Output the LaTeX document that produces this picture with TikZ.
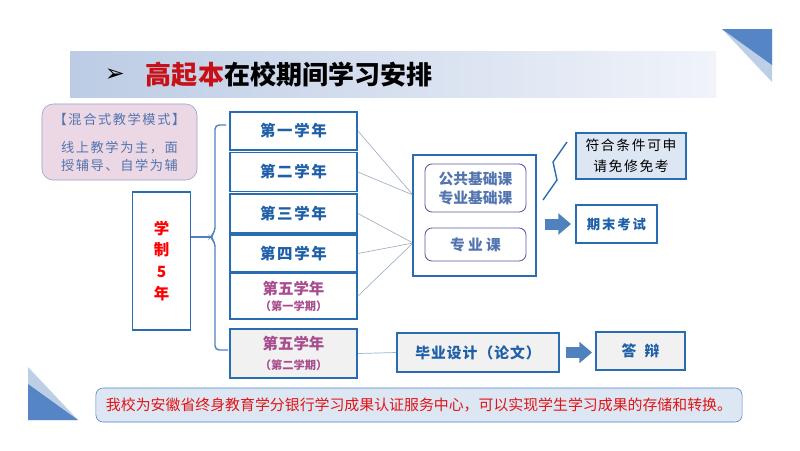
\documentclass[tikz,border=0pt]{standalone}
\usepackage{fontspec}
\setmainfont{Noto Sans CJK SC}
\newfontfamily\symfont{DejaVu Sans}
\usepackage{tikz}
\usetikzlibrary{arrows.meta}
\definecolor{boxblue}{RGB}{40, 108, 178}
\definecolor{yearblue}{RGB}{30, 95, 168}
\definecolor{mauve}{RGB}{168, 78, 142}
\definecolor{softblue}{RGB}{82, 116, 176}
\definecolor{lineblue}{RGB}{165, 178, 198}
\definecolor{arrowblue}{RGB}{79, 129, 189}
\definecolor{pink}{RGB}{236, 216, 228}
\definecolor{paleblue}{RGB}{221, 231, 244}
\definecolor{lgray}{RGB}{241, 241, 241}
\definecolor{trilight}{RGB}{188, 207, 231}
\definecolor{tridark}{RGB}{86, 133, 197}
\definecolor{titlered}{RGB}{200, 16, 24}
\definecolor{notered}{RGB}{226, 20, 20}
\tikzset{
	yearbox/.style = {draw = boxblue, line width = 1.3pt, fill = white, minimum width = 3.175cm, inner sep = 0pt, align = center, text = yearblue, font = \fontsize{11}{13}\selectfont\bfseries\addfontfeature{LetterSpace=10}},
	plainbox/.style = {draw = boxblue, line width = 1.3pt, fill = white, inner sep = 0pt, align = center},
	roundbox/.style = {draw = gray!70!blue, line width = 0.6pt, fill = white, rounded corners = 5pt, minimum width = 2.525cm, inner sep = 0pt, align = center, text = softblue, font = \fontsize{10.5}{13.5}\selectfont\bfseries},
	thin line/.style = {draw = lineblue, line width = 0.5pt},
	fat/.style = {draw = arrowblue, line width = 0.275cm, -{Triangle[length = 0.32cm, width = 0.52cm]}}
}

\begin{document}
\begin{tikzpicture}[x = 0.025cm, y = -0.025cm]
			\useasboundingbox (0,0) rectangle (800,450);
			\shade[left color = {rgb,255:red,188;green,204;blue,228}, right color = {rgb,255:red,240;green,243;blue,250}] (70,51) rectangle (716,97);
			\fill[trilight] (722,29) -- (772,29) -- (772,82) -- cycle;
			\fill[tridark] (722,29) -- (772,29) -- (772,65) -- cycle;
			\fill[trilight] (28,367) -- (78,420) -- (28,420) -- cycle;
			\fill[tridark] (28,384) -- (78,420) -- (28,420) -- cycle;
			\node (mark) at (115,75) [font = \symfont\fontsize{17}{19}\selectfont] {➢};
			\node (title) at (141,75) [anchor = west, font = \fontsize{18.5}{22}\selectfont\bfseries] {\textcolor{titlered}{高起本}在校期间学习安排};
			\node (mode) at (119.5,142) [draw = {rgb,255:red,150;green,160;blue,200}, fill = pink, rounded corners = 8pt, minimum width = 3.875cm, minimum height = 1.9cm, align = center, text = softblue, font = \fontsize{9.4}{12.8}\selectfont\addfontfeature{LetterSpace=12}] {【混合式教学模式】\\[7pt]线上教学为主，面\\授辅导、自学为辅};
			\node (plan) at (161.5,261) [plainbox, minimum width = 1.45cm, minimum height = 3.45cm, text = red, font = \fontsize{11}{15.6}\selectfont\bfseries] {学\\制\\5\\年};
			\node (y1) at (293.5,131) [yearbox, minimum height = 0.95cm] {第一学年};
			\node (y2) at (293.5,172) [yearbox, minimum height = 0.975cm] {第二学年};
			\node (y3) at (293.5,213.5) [yearbox, minimum height = 0.975cm] {第三学年};
			\node (y4) at (293.5,253.5) [yearbox, minimum height = 0.925cm] {第四学年};
			\node (y5) at (293.5,296) [yearbox, minimum height = 1.15cm, text = mauve, font = \fontsize{11}{11.4}\selectfont\bfseries] {第五学年\\{\fontsize{8}{10}\selectfont （第一学期）}};
			\node (y6) at (293.5,353.5) [yearbox, fill = lgray, minimum height = 1.225cm, text = mauve, font = \fontsize{11}{14}\selectfont\bfseries] {第五学年\\{\fontsize{8}{10}\selectfont （第二学期）}};
			\coordinate (in1) at (413,195);
			\coordinate (in2) at (413,243);
			\draw[thin line] (y1.east) -- (in1);
			\draw[thin line] (y2.east) -- (in1);
			\draw[thin line] (y3.east) -- (in2);
			\draw[thin line] (y4.east) -- (in2);
			\draw[thin line] (y5.east) -- (in2);
			\node (course) at (474.5,215.5) [plainbox, minimum width = 3.075cm, minimum height = 3.025cm] {};
			\node (basic) at (475.5,188) [roundbox, minimum height = 1.2cm] {公共基础课\\专业基础课};
			\node (major) at (475.5,244.5) [roundbox, minimum height = 0.825cm, font = \fontsize{10.5}{13}\selectfont\bfseries\addfontfeature{LetterSpace=22}] {专业课};
			\node (free) at (631,156) [plainbox, fill = paleblue, minimum width = 2.75cm, minimum height = 1.15cm, font = \fontsize{9.8}{15}\selectfont\addfontfeature{LetterSpace=12}] {符合条件可申\\请免修免考};
			\node (exam) at (616.5,224) [plainbox, minimum width = 2.025cm, minimum height = 0.95cm, text = yearblue, font = \fontsize{9.5}{12}\selectfont\bfseries\addfontfeature{LetterSpace=14}] {期末考试};
			\node (thesis) at (478,352.5) [plainbox, fill = lgray, minimum width = 4.05cm, minimum height = 0.975cm, text = yearblue, font = \fontsize{10.5}{13}\selectfont\bfseries\addfontfeature{LetterSpace=7}] {毕业设计（论文）};
			\node (defense) at (640.5,351) [plainbox, fill = lgray, minimum width = 2.225cm, minimum height = 0.95cm, text = yearblue, font = \fontsize{10.5}{13}\selectfont\bfseries] {答\hspace{6pt}辩};
			\draw[draw = boxblue, line width = 1pt] (543,200) -- (557,180) -- (553,162) -- (567,142);
			\draw[fat, shorten <= 0.2cm, shorten >= 0.1cm] (course.east |- exam.west) -- (exam.west);
			\draw[fat, shorten <= 0.15cm, shorten >= 0.075cm] (thesis.east) -- (thesis.east -| defense.west);
			\coordinate (tip) at (210,237);
			\draw[draw = arrowblue, line width = 1pt, rounded corners = 3pt] (226,125) -- (215,125) -- (215,232) -- (tip) -- (215,242) -- (215,350) -- (228,350);
			\draw[draw = arrowblue, line width = 1pt] (plan.east |- tip) -- (tip);
			\draw[thin line, draw = arrowblue!60] (y6.east) -- (thesis.west);
			\node (note) at (419,405) [draw = arrowblue, fill = paleblue, rounded corners = 5pt, minimum width = 16.15cm, minimum height = 0.85cm, text = notered, font = \fontsize{10.6}{12}\selectfont] {我校为安徽省终身教育学分银行学习成果认证服务中心，可以实现学生学习成果的存储和转换。};
\end{tikzpicture}
\end{document}
